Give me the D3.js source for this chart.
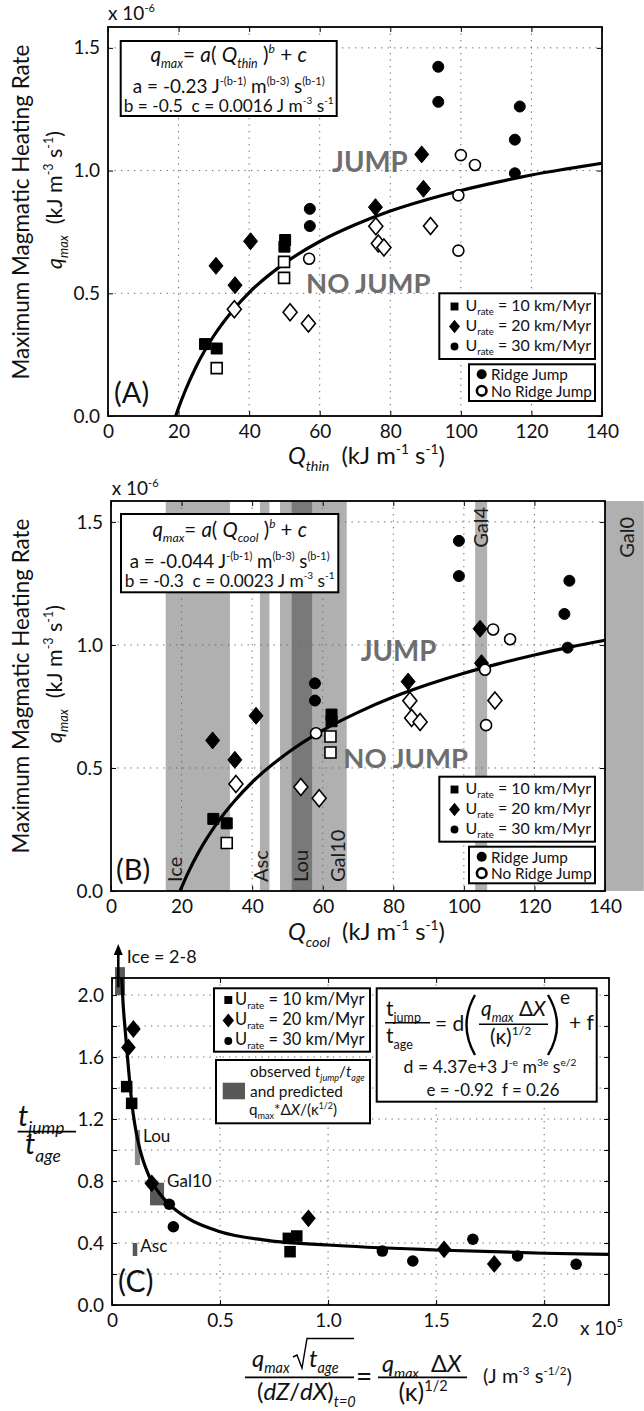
<!DOCTYPE html>
<html>
<head>
<meta charset="utf-8">
<script src="https://cdn.jsdelivr.net/npm/d3@7"></script>
<style>
  body { margin: 0; background: #fff; }
  svg { display: block; }
  text { font-family: Lato, "Open Sans", sans-serif; fill: #111; }
</style>
</head>
<body>
<svg id="fig" width="644" height="1411"></svg>
<script>
// ---- data ----
// panels A and B: the same 32 model runs, plotted against Q_thin and Q_cool
const uRate = [10, 10, 10, 10, 10, 10, 10,
  20, 20, 20, 20, 20, 20, 20, 20, 20, 20, 20, 20, 20,
  30, 30, 30, 30, 30, 30, 30, 30, 30, 30, 30, 30]
const ridgeJump = [1, 1, 0, 1, 1, 0, 0,
  1, 1, 0, 1, 0, 0, 1, 0, 0, 0, 0, 1, 1,
  1, 1, 0, 1, 1, 1, 1, 1, 0, 0, 0, 0]
const qMax = [0.293, 0.275, 0.195, 0.717, 0.690, 0.628, 0.563,
  0.612, 0.533, 0.435, 0.712, 0.423, 0.377, 0.851, 0.773, 0.703, 0.687, 0.774, 0.926, 1.066,
  0.844, 0.774, 0.641, 1.423, 1.280, 1.261, 1.126, 0.989, 0.899, 0.674, 1.063, 1.023]
const qThin = [27.5, 30.8, 30.8, 50.2, 50.0, 49.9, 49.9,
  30.6, 36.0, 35.8, 40.4, 51.6, 56.8, 75.8, 75.9, 76.6, 78.2, 91.4, 89.4, 88.9,
  57.2, 57.2, 57.0, 93.6, 93.6, 116.7, 115.3, 115.3, 99.3, 99.3, 100.0, 104.0]
const qCool = [29.0, 32.8, 32.8, 62.5, 62.5, 62.2, 62.2,
  28.8, 35.1, 35.4, 41.1, 53.8, 59.0, 84.2, 84.7, 85.2, 87.6, 108.8, 105.0, 104.6,
  57.8, 57.8, 58.1, 98.6, 98.6, 129.9, 128.5, 129.4, 106.0, 106.3, 108.3, 113.1]

// fitted curves
const thinFitQ = [19.2, 20, 22, 25, 30, 35, 40, 50, 60, 70, 80, 90, 100, 110, 120, 130, 140]
const thinFitq = [0, 0.033, 0.107, 0.202, 0.327, 0.424, 0.503, 0.622, 0.711, 0.779, 0.835, 0.880, 0.919, 0.952, 0.982, 1.007, 1.030]
const coolFitQ = [19.55, 20, 22, 25, 30, 35, 40, 50, 60, 70, 80, 90, 100, 110, 120, 130, 140]
const coolFitq = [0, 0.015, 0.079, 0.162, 0.275, 0.366, 0.442, 0.561, 0.653, 0.726, 0.788, 0.840, 0.885, 0.924, 0.959, 0.991, 1.019]

// observed Q_cool ranges of real ridges (panel B)
const bandNames = ['Ice', 'Asc', 'Lou', 'Gal10', 'Gal4', 'Gal0']
const bandLo = [15.5, 42.2, 47.9, 51.2, 103.2, 140]
const bandHi = [33.7, 44.9, 57.0, 66.8, 106.6, 151]

// panel C: t_jump / t_age against q_max dX / kappa^0.5 (x 1e5)
const ratioX = [0.068, 0.091, 0.816, 0.855, 0.824,
  0.099, 0.076, 0.184, 0.909, 1.537, 1.769,
  0.265, 0.284, 1.251, 1.392, 1.670, 1.877, 2.148]
const ratioY = [1.409, 1.301, 0.430, 0.445, 0.344,
  1.781, 1.662, 0.785, 0.559, 0.359, 0.265,
  0.650, 0.505, 0.348, 0.284, 0.424, 0.316, 0.263]
const ratioRate = [10, 10, 10, 10, 10, 20, 20, 20, 20, 20, 20, 30, 30, 30, 30, 30, 30, 30]
const fitCX = [0.045, 0.052, 0.060, 0.068, 0.076, 0.084, 0.092, 0.105, 0.12, 0.14, 0.16, 0.184, 0.22, 0.265, 0.35, 0.5, 0.7, 1.0, 1.5, 2.0, 2.3]
const fitCY = [2.11, 1.93, 1.79, 1.66, 1.53, 1.41, 1.30, 1.17, 1.06, 0.95, 0.87, 0.796, 0.72, 0.65, 0.56, 0.473, 0.42, 0.387, 0.355, 0.334, 0.327]
const obsNames = ['Ice', 'Lou', 'Gal10', 'Asc']
const obsX0 = [0.014, 0.106, 0.176, 0.096]
const obsX1 = [0.060, 0.130, 0.241, 0.117]
const obsY0 = [2.0, 0.903, 0.643, 0.316]
const obsY1 = [2.18, 1.129, 0.789, 0.40]

const svg = d3.select('#fig')

// text with italic / sub / sup pieces; tw = width to fit the text to
function rich (sel, x, y, parts, size, anchor, tw) {
  const build = function (sz) {
    const t = sel.append('text').attr('x', x).attr('y', y).attr('font-size', sz)
      .attr('text-anchor', anchor || 'start').style('white-space', 'pre')
    let off = 0
    parts.forEach(function (p) {
      const str = Array.isArray(p) ? p[0] : p
      const mode = Array.isArray(p) ? (p[1] || '') : ''
      let shift = 0
      let fs = sz
      if (mode.includes('sub')) { shift = 0.28 * sz; fs = 0.6 * sz }
      if (mode.includes('sup')) { shift = -0.42 * sz; fs = 0.58 * sz }
      const ts = t.append('tspan').attr('dy', shift - off).attr('font-size', fs).text(str)
      if (mode.startsWith('i')) ts.attr('font-style', 'italic')
      if (mode === 'bold') ts.attr('font-weight', 700)
      off = shift
    })
    return t
  }
  let t = build(size)
  if (tw) {
    const w = t.node().getBBox().width
    t.remove()
    t = build(size * tw / w)
  }
  return t
}

// marker shapes centred on 0,0
function shape (rate, s) {
  if (rate === 10) return `M${-5.5 * s},${-5.5 * s}h${11 * s}v${11 * s}h${-11 * s}Z`
  if (rate === 20) return `M0,${-8.5 * s}L${7 * s},0L0,${8.5 * s}L${-7 * s},0Z`
  const p = d3.path()
  p.arc(0, 0, 5.5 * s, 0, 2 * Math.PI)
  return p.toString()
}

function grid (g, x, y, xs, ys) {
  const w = x.range()[1]
  const h = y.range()[0]
  const gg = g.append('g')
  gg.append('g').selectAll('line').data(xs).join('line')
    .attr('x1', d => x(d)).attr('x2', d => x(d)).attr('y1', 0).attr('y2', h)
  gg.append('g').selectAll('line').data(ys).join('line')
    .attr('x1', 0).attr('x2', w).attr('y1', d => y(d)).attr('y2', d => y(d))
  gg.selectAll('line').attr('stroke', '#666').attr('stroke-width', 1).attr('stroke-dasharray', '1.3,5.2')
}

function axes (g, x, y, xs, ys, fx, fy) {
  const w = x.range()[1]
  const h = y.range()[0]
  const style = function (a) {
    a.select('.domain').remove()
    a.attr('font-size', 19).attr('font-family', null)
    a.selectAll('line').attr('stroke', '#000')
    a.selectAll('text').attr('fill', '#111')
  }
  g.append('g').attr('transform', `translate(0,${h})`)
    .call(d3.axisBottom(x).tickValues(xs).tickSize(-5).tickPadding(9).tickFormat(fx)).call(style)
  g.append('g')
    .call(d3.axisTop(x).tickValues(xs).tickSize(-5).tickFormat('')).call(style)
  g.append('g')
    .call(d3.axisLeft(y).tickValues(ys).tickSize(-5).tickPadding(8).tickFormat(fy)).call(style)
  g.append('g').attr('transform', `translate(${w},0)`)
    .call(d3.axisRight(y).tickValues(ys).tickSize(-5).tickFormat('')).call(style)
  g.append('rect').attr('width', w).attr('height', h)
    .attr('fill', 'none').attr('stroke', '#000').attr('stroke-width', 1.8)
}

function fitLine (g, x, y, xs, ys) {
  const line = d3.line().x(i => x(xs[i])).y(i => y(ys[i])).curve(d3.curveMonotoneX)
  g.append('path').attr('d', line(d3.range(xs.length)))
    .attr('fill', 'none').attr('stroke', '#000').attr('stroke-width', 3.2)
}

function runs (g, x, y, qx) {
  g.append('g').selectAll('path').data(d3.range(qx.length)).join('path')
    .attr('transform', i => `translate(${x(qx[i])},${y(qMax[i])})`)
    .attr('d', i => shape(uRate[i], 1))
    .attr('fill', i => ridgeJump[i] ? '#000' : '#fff')
    .attr('stroke', '#000')
    .attr('stroke-width', i => ridgeJump[i] ? 1 : 1.6)
}

function box (x0, y0, w, h) {
  svg.append('rect').attr('x', x0).attr('y', y0).attr('width', w).attr('height', h)
    .attr('fill', '#fff').attr('stroke', '#000').attr('stroke-width', 2)
}

function rateLegend (x0, y0, w, h, lx, ly, dy, tw) {
  box(x0, y0, w, h)
  ;[10, 20, 30].forEach(function (r, k) {
    svg.append('path').attr('transform', `translate(${lx},${ly + k * dy - 4.5})`)
      .attr('d', shape(r, r === 20 ? 0.78 : 0.72)).attr('fill', '#000')
    rich(svg, lx + 11, ly + k * dy, ['U', ['rate', 'sub'], ` = ${r} km/Myr`], 18, 'start', tw)
  })
}

function jumpLegend (x0, y0, w, h) {
  box(x0, y0, w, h)
  svg.append('circle').attr('cx', x0 + 12.7).attr('cy', y0 + 10).attr('r', 5).attr('fill', '#000')
  svg.append('circle').attr('cx', x0 + 12.7).attr('cy', y0 + 26.5).attr('r', 4.8)
    .attr('fill', '#fff').attr('stroke', '#000').attr('stroke-width', 2.6)
  rich(svg, x0 + 22, y0 + 16, ['Ridge Jump'], 16, 'start', 77)
  rich(svg, x0 + 22, y0 + 32.5, ['No Ridge Jump'], 16, 'start', 101)
}

function yLabelQ (cy1, cy2) {
  rich(svg.append('g').attr('transform', `translate(29,${cy1}) rotate(-90)`), 0, 0,
    ['Maximum Magmatic Heating Rate'], 22, 'middle', 335)
  rich(svg.append('g').attr('transform', `translate(62,${cy2}) rotate(-90)`), 0, 0,
    [['q', 'i'], ['max', 'isub'], ['  (kJ m'], ['-3', 'sup'], [' s'], ['-1', 'sup'], [')']], 23, 'middle', 138)
}

function eqBox (x0, y0, w, h, sub, aText, bText, yb, tws) {
  box(x0, y0, w, h)
  const cx = x0 + w / 2
  rich(svg, cx, yb[0], [['q', 'i'], ['max', 'isub'], ['= '], ['a', 'i'], ['( '], ['Q', 'i'], [sub, 'isub'],
    [' )'], ['b', 'isup'], [' + '], ['c', 'i']], 21, 'middle', tws[0])
  rich(svg, cx, yb[1], [[aText + ' J'], ['-(b-1)', 'sup'], [' m'], ['(b-3)', 'sup'], [' s'], ['(b-1)', 'sup']], 18.5, 'middle', tws[1])
  rich(svg, cx, yb[2], [[bText + ' J m'], ['-3', 'sup'], [' s'], ['-1', 'sup']], 18, 'middle', tws[2])
}

function bigWord (x, y, str, tw) {
  rich(svg, x, y, [[str, 'bold']], 27, 'start', tw).selectAll('tspan').style('fill', '#6e6e6e')
}

// ================= panel A =================
const pA = { left: 108, top: 27, w: 494, h: 389 }
const gA = svg.append('g').attr('transform', `translate(${pA.left},${pA.top})`)
const xA = d3.scaleLinear().domain([0, 140]).range([0, pA.w])
const yA = d3.scaleLinear().domain([0, 1.585]).range([pA.h, 0])
grid(gA, xA, yA, [20, 40, 60, 80, 100, 120], [0.5, 1.0, 1.5])
fitLine(gA, xA, yA, thinFitQ, thinFitq)
runs(gA, xA, yA, qThin)
axes(gA, xA, yA, d3.range(0, 141, 20), [0, 0.5, 1.0, 1.5], d3.format('d'), d3.format('.1f'))
eqBox(120.7, 41, 216, 75, 'thin', 'a = -0.23', 'b = -0.5  c = 0.0016', [62, 92.5, 111.5], [157, 192, 210])
bigWord(332, 172, 'JUMP', 76)
bigWord(306, 293, 'NO JUMP', 125)
rateLegend(439.3, 293.3, 155.7, 65.7, 454.5, 311, 20, 126)
jumpLegend(469, 364.3, 126, 36.7)
rich(svg, 114, 403, ['(A)'], 29)
rich(svg, 108, 20, ['x 10', ['-6', 'sup']], 19)
yLabelQ(212, 200)
rich(svg, 288, 464, [['Q', 'i'], ['thin', 'isub'], ['  (kJ m'], ['-1', 'sup'], [' s'], ['-1', 'sup'], [')']], 23, 'start', 157)

// ================= panel B =================
const pB = { left: 111, top: 501, w: 494, h: 390 }
const gB = svg.append('g').attr('transform', `translate(${pB.left},${pB.top})`)
const xB = d3.scaleLinear().domain([0, 140]).range([0, pB.w])
const yB = d3.scaleLinear().domain([0, 1.585]).range([pB.h, 0])
gB.append('g').selectAll('rect').data(d3.range(bandNames.length)).join('rect')
  .attr('x', i => xB(bandLo[i])).attr('width', i => xB(bandHi[i]) - xB(bandLo[i]))
  .attr('y', 0).attr('height', pB.h)
  .attr('fill', '#000').attr('fill-opacity', 0.31)
grid(gB, xB, yB, [20, 40, 60, 80, 100, 120], [0.5, 1.0, 1.5])
// band names: rotated, along the bottom or the top of the band
const bandLabelX = {
  Ice: lo => xB(lo) + 9,
  Asc: lo => xB(lo) + 1,
  Lou: lo => xB(lo) + 21,
  Gal10: (lo, hi) => xB(hi) - 9,
  Gal4: (lo, hi) => xB((lo + hi) / 2),
  Gal0: (lo, hi) => xB((lo + hi) / 2) + 2
}
bandNames.forEach(function (n, i) {
  const top = n === 'Gal4' || n === 'Gal0'
  const yy = top ? (n === 'Gal4' ? 6 : 16) : pB.h - 9
  gB.append('text')
    .attr('transform', `translate(${bandLabelX[n](bandLo[i], bandHi[i])},${yy}) rotate(-90)`)
    .attr('dy', '0.36em').attr('text-anchor', top ? 'end' : 'start')
    .attr('font-size', 20).style('fill', '#1a1a1a').text(n)
})
fitLine(gB, xB, yB, coolFitQ, coolFitq)
runs(gB, xB, yB, qCool)
axes(gB, xB, yB, d3.range(0, 141, 20), [0, 0.5, 1.0, 1.5], d3.format('d'), d3.format('.1f'))
eqBox(121, 514, 217.3, 78.3, 'cool', 'a = -0.044', 'b = -0.3  c = 0.0023', [536.7, 568, 586.7], [155, 200, 210])
bigWord(360.7, 660.7, 'JUMP', 76)
bigWord(343.3, 768.3, 'NO JUMP', 125)
rateLegend(439.3, 776.7, 155.7, 65, 454.5, 794, 20, 126)
jumpLegend(469, 846.7, 126, 36.6)
rich(svg, 116, 880, ['(B)'], 29)
rich(svg, 111.7, 495, ['x 10', ['-6', 'sup']], 19)
yLabelQ(686, 674)
rich(svg, 288, 940, [['Q', 'i'], ['cool', 'isub'], ['  (kJ m'], ['-1', 'sup'], [' s'], ['-1', 'sup'], [')']], 23, 'start', 157)

// ================= panel C =================
const pC = { left: 112, top: 978, w: 497, h: 327 }
const gC = svg.append('g').attr('transform', `translate(${pC.left},${pC.top})`)
const xC = d3.scaleLinear().domain([0, 2.3]).range([0, pC.w])
const yC = d3.scaleLinear().domain([0, 2.11]).range([pC.h, 0])
grid(gC, xC, yC, [0.5, 1.0, 1.5, 2.0], [0.2, 0.4, 0.6, 0.8, 1.0, 1.2, 1.4, 1.6, 1.8, 2.0])
gC.append('g').selectAll('rect').data(d3.range(obsNames.length)).join('rect')
  .attr('x', i => xC(obsX0[i])).attr('width', i => xC(obsX1[i]) - xC(obsX0[i]))
  .attr('y', i => yC(obsY1[i])).attr('height', i => yC(obsY0[i]) - yC(obsY1[i]))
  .attr('fill', i => obsNames[i] === 'Lou' ? '#8a8a8a' : '#585858')
// labels next to the observed boxes
const obsLabelDy = { Lou: 12, Gal10: 4, Asc: 9 }
obsNames.forEach(function (n, i) {
  if (!(n in obsLabelDy)) return
  gC.append('text').attr('x', xC(obsX1[i]) + 3).attr('y', yC(obsY1[i]) + obsLabelDy[n])
    .attr('font-size', 17).text(n)
})
// Ice lies far above the axis: arrow
gC.append('line').attr('x1', xC(0.029)).attr('x2', xC(0.029)).attr('y1', yC(2.05)).attr('y2', -25)
  .attr('stroke', '#000').attr('stroke-width', 2.6)
gC.append('path').attr('d', `M${xC(0.029)},-34l-4.5,11h9Z`).attr('fill', '#000')
rich(gC, xC(0.068), -14.7, ['Ice = 2-8'], 18, 'start', 70)
fitLine(gC, xC, yC, fitCX, fitCY)
gC.append('g').selectAll('path').data(d3.range(ratioX.length)).join('path')
  .attr('transform', i => `translate(${xC(ratioX[i])},${yC(ratioY[i])})`)
  .attr('d', i => shape(ratioRate[i], 1.05)).attr('fill', '#000')
axes(gC, xC, yC, [0, 0.5, 1.0, 1.5, 2.0], d3.range(0, 11).map(k => k * 0.2),
  d => d === 0 ? '0' : d3.format('.1f')(d),
  d => Math.round(d * 10) % 4 === 0 ? d3.format('.1f')(d) : '')

// legends of panel C
box(214, 988.3, 156, 63.4)
;[10, 20, 30].forEach(function (r, k) {
  svg.append('path').attr('transform', `translate(228.3,${1000 + k * 20.5})`)
    .attr('d', shape(r, r === 20 ? 0.82 : 0.72)).attr('fill', '#000')
  rich(svg, 235, 1004.5 + k * 20, ['U', ['rate', 'sub'], ` = ${r} km/Myr`], 18, 'start', 130)
})
box(216, 1060, 154, 63.3)
svg.append('rect').attr('x', 222.7).attr('y', 1082.7).attr('width', 22.3).attr('height', 16.6).attr('fill', '#585858')
rich(svg, 250, 1076.7, ['observed ', ['t', 'i'], ['jump', 'isub'], '/', ['t', 'i'], ['age', 'isub']], 16, 'start', 115)
rich(svg, 250, 1096.7, ['and predicted'], 16, 'start', 93)
rich(svg, 249, 1115, ['q', ['max', 'sub'], '*Δ', ['X', 'i'], '/(κ', ['1/2', 'sup'], ')'], 16, 'start', 88)

// fit equation of panel C
box(376.7, 988.3, 220, 113.4)
rich(svg, 386, 1016, ['t', ['jump', 'sub']], 21)
svg.append('line').attr('x1', 385).attr('x2', 430).attr('y1', 1022.7).attr('y2', 1022.7).attr('stroke', '#000').attr('stroke-width', 1.6)
rich(svg, 386, 1043, ['t', ['age', 'sub']], 21)
rich(svg, 435, 1031, ['= d'], 21)
svg.append('path').attr('d', 'M475,995Q458,1025 475,1055').attr('fill', 'none').attr('stroke', '#000').attr('stroke-width', 2.4)
svg.append('path').attr('d', 'M548,995Q566,1025 548,1055').attr('fill', 'none').attr('stroke', '#000').attr('stroke-width', 2.4)
rich(svg, 481, 1016, [['q', 'i'], ['max', 'isub'], ' Δ', ['X', 'i']], 21, 'start', 66)
svg.append('line').attr('x1', 479).attr('x2', 548).attr('y1', 1024.3).attr('y2', 1024.3).attr('stroke', '#000').attr('stroke-width', 1.6)
rich(svg, 490, 1044, ['(κ)', ['1/2', 'sup']], 21)
rich(svg, 560, 1004, ['e'], 19)
rich(svg, 569, 1030, ['+ f'], 21)
rich(svg, 490, 1073, ['d = 4.37e+3 J', ['-e', 'sup'], ' m', ['3e', 'sup'], ' s', ['e/2', 'sup']], 19, 'middle', 173)
rich(svg, 493, 1096, ['e = -0.92  f = 0.26'], 19, 'middle', 133)

// axis labels of panel C
rich(svg, 18, 1125.7, [['t', 'i'], ['jump', 'isub']], 29)
svg.append('line').attr('x1', 17.7).attr('x2', 76).attr('y1', 1131.7).attr('y2', 1131.7).attr('stroke', '#000').attr('stroke-width', 1.8)
rich(svg, 25, 1154, [['t', 'i'], ['age', 'isub']], 29)
rich(svg, 118, 1291.7, ['(C)'], 30)
rich(svg, 580, 1335, ['x 10', ['5', 'sup']], 19)
rich(svg, 252, 1366.7, [['q', 'i'], ['max', 'isub']], 24)
svg.append('path').attr('d', 'M293,1357L297,1355L302,1368L307,1338.5L354,1338.5')
  .attr('fill', 'none').attr('stroke', '#000').attr('stroke-width', 1.4)
rich(svg, 309, 1366.7, [['t', 'i'], ['age', 'isub']], 24)
svg.append('line').attr('x1', 245).attr('x2', 354).attr('y1', 1377.3).attr('y2', 1377.3).attr('stroke', '#000').attr('stroke-width', 1.8)
rich(svg, 257, 1400, ['(', ['dZ', 'i'], '/', ['dX', 'i'], ')', ['t=0', 'isub']], 24)
rich(svg, 356, 1386, ['='], 28)
rich(svg, 382, 1371.7, [['q', 'i'], ['max', 'isub'], '  Δ', ['X', 'i']], 25, 'start', 80)
svg.append('line').attr('x1', 378).attr('x2', 467).attr('y1', 1377.3).attr('y2', 1377.3).attr('stroke', '#000').attr('stroke-width', 1.8)
rich(svg, 423, 1401, ['(κ)', ['1/2', 'sup']], 25, 'middle')
rich(svg, 483, 1383, ['(J m', ['-3', 'sup'], ' s', ['-1/2', 'sup'], ')'], 18.5, 'start', 89)
</script>
</body>
</html>
